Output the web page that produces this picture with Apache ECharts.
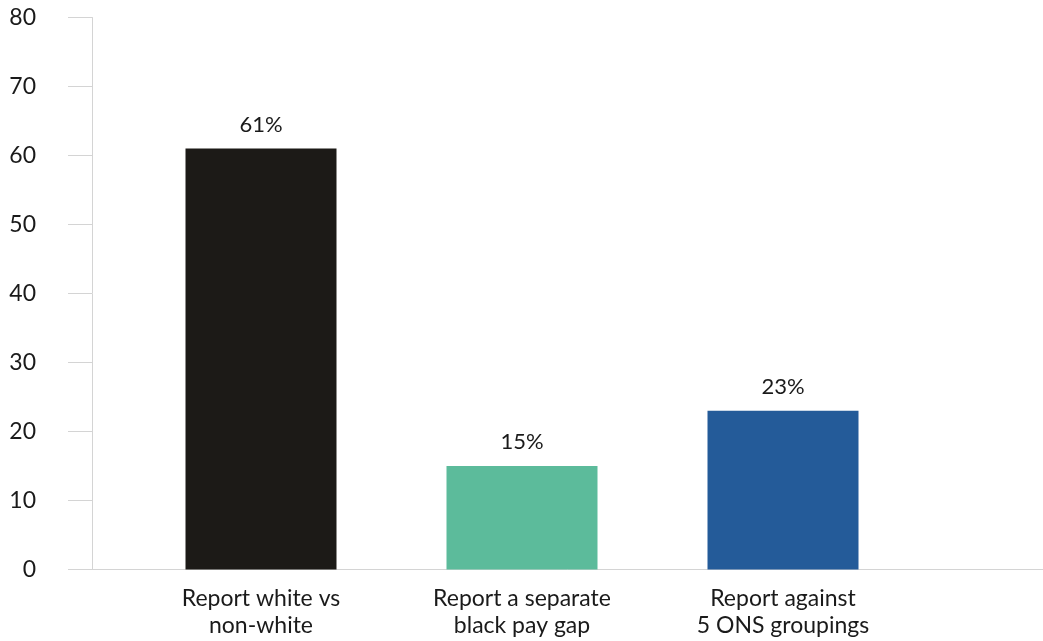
<!DOCTYPE html>
<html>
<head>
<meta charset="utf-8">
<script src="https://cdn.jsdelivr.net/npm/echarts@6/dist/echarts.min.js"></script>
<style>
  html, body { margin: 0; padding: 0; background: #ffffff; }
  #chart { width: 1043px; height: 641px; }
</style>
</head>
<body>
<div id="chart"></div>
<script>
// Categories and shares of employers by reporting approach
const categories = ['Report white vs\nnon-white', 'Report a separate\nblack pay gap', 'Report against\n5 ONS groupings'];
const shares = [61, 15, 23];
const barColors = ['#1c1a17', '#5cbb9b', '#245b99'];
const yTicks = [0, 10, 20, 30, 40, 50, 60, 70, 80];

const FONT = 'Lato, "Noto Sans", sans-serif';
const TEXT = '#1a1a1a';
const RULE = '#d4d4d4';

const chart = echarts.init(document.getElementById('chart'));

chart.setOption({
  animation: false,
  backgroundColor: '#ffffff',
  grid: [
    // frame: y scale and baseline
    { left: 92, right: 0, top: 17.5, bottom: 71.5 },
    // bars
    { left: 130.5, width: 783, top: 17.5, bottom: 71.5 }
  ],
  xAxis: [
    {
      gridIndex: 0, type: 'value', min: 0, max: 1,
      axisLine: { show: true, lineStyle: { color: RULE, width: 1 } },
      axisTick: { show: false }, axisLabel: { show: false }, splitLine: { show: false }
    },
    {
      gridIndex: 1, type: 'category', data: categories,
      axisLine: { show: false }, axisTick: { show: false },
      axisLabel: {
        color: TEXT, fontFamily: FONT, fontSize: 23, lineHeight: 27,
        margin: 16, interval: 0
      }
    }
  ],
  yAxis: [
    {
      gridIndex: 0, type: 'value', position: 'left',
      min: yTicks[0], max: yTicks[yTicks.length - 1], interval: 10,
      offset: 2,
      axisLine: { show: false },
      axisTick: { show: true, length: 24, lineStyle: { color: RULE, width: 1 } },
      axisLabel: {
        color: TEXT, fontFamily: FONT, fontSize: 23, margin: 54
      },
      splitLine: { show: false }
    },
    {
      gridIndex: 0, type: 'value', position: 'left',
      min: yTicks[0], max: yTicks[yTicks.length - 1], interval: 10,
      axisLine: { show: true, lineStyle: { color: RULE, width: 1 } },
      axisTick: { show: false }, axisLabel: { show: false }, splitLine: { show: false }
    },
    {
      gridIndex: 1, type: 'value',
      min: yTicks[0], max: yTicks[yTicks.length - 1], interval: 10,
      show: false, splitLine: { show: false }
    }
  ],
  series: [
    {
      type: 'bar',
      xAxisIndex: 1, yAxisIndex: 2,
      barWidth: 151,
      data: shares.map((v, i) => ({ value: v, itemStyle: { color: barColors[i] } })),
      label: {
        show: true, position: 'top', distance: 13,
        color: TEXT, fontFamily: FONT, fontSize: 22,
        formatter: p => p.value + '%'
      }
    }
  ]
});
</script>
</body>
</html>
